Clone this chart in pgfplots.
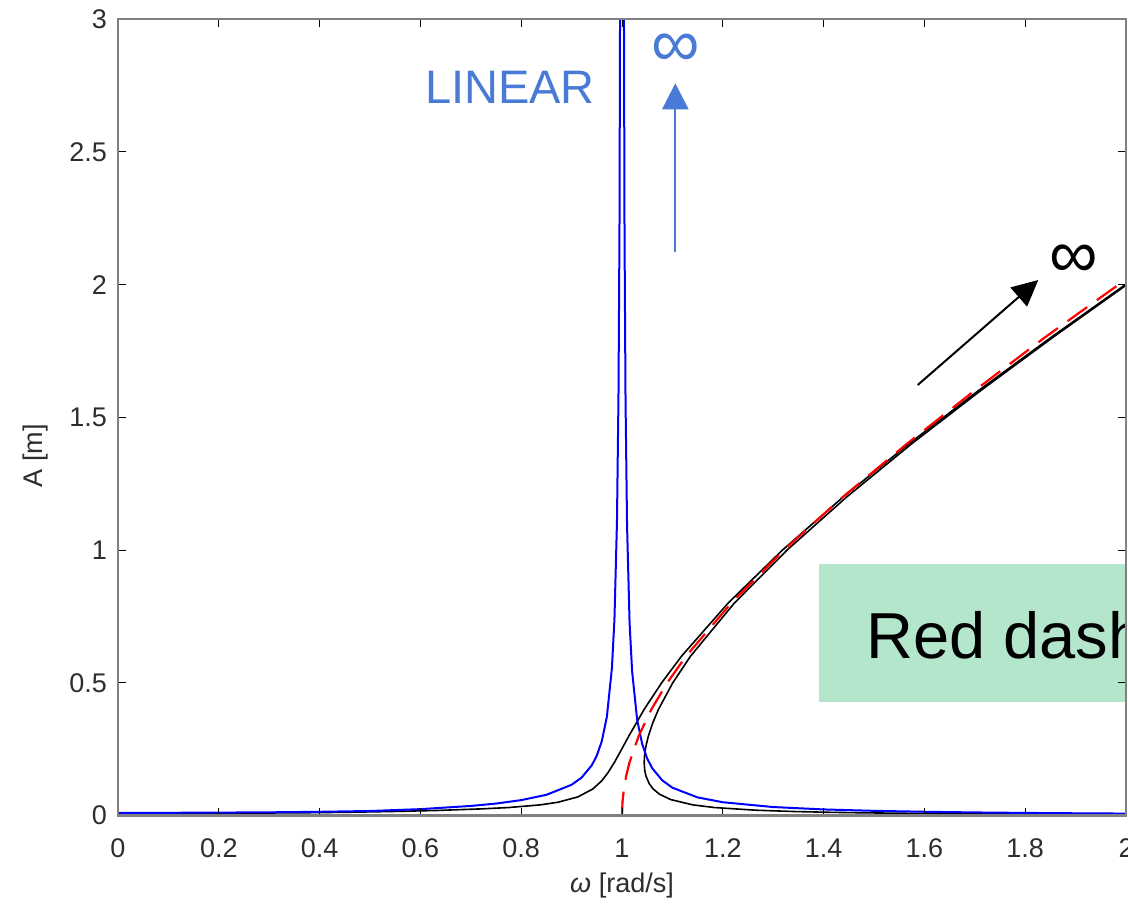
\documentclass[border=0pt]{standalone}
\usepackage{fontspec}
\setmainfont{Liberation Sans}
\usepackage{pgfplots}
\pgfplotsset{compat=1.18}
\usetikzlibrary{arrows.meta}

\definecolor{annblue}{RGB}{72,122,214}
\definecolor{boxgreen}{RGB}{179,230,203}
\definecolor{axgray}{RGB}{128,128,128}
\definecolor{ticktext}{RGB}{45,45,45}

% linear response
\pgfplotstableread{
w A
0 0.0100
0.1 0.0102
0.2 0.0110
0.3 0.0120
0.4 0.0140
0.5 0.0170
0.6 0.0240
0.7 0.0360
0.75 0.0450
0.8 0.0580
0.85 0.0780
0.9 0.1158
0.92 0.1432
0.94 0.1890
0.95 0.2256
0.96 0.2806
0.97 0.3723
0.98 0.5556
0.985 0.7389
0.99 1.1055
0.993 1.5770
0.995 2.2055
0.997 3.672
0.999 11.006
1.001 10.995
1.003 3.661
1.005 2.1945
1.007 1.5659
1.01 1.0945
1.015 0.7279
1.02 0.5446
1.03 0.3612
1.04 0.2696
1.05 0.2146
1.06 0.1780
1.08 0.1322
1.1 0.1048
1.15 0.0682
1.2 0.0500
1.3 0.0319
1.4 0.0229
1.5 0.0176
1.6 0.0141
1.7 0.0116
1.8 0.0098
1.9 0.0084
2.0 0.0073
}\linear

% Duffing response, in-phase branch
\pgfplotstableread{
w A
0.0104 0.0080
0.1285 0.0082
0.2003 0.0086
0.2776 0.0092
0.3782 0.0105
0.4474 0.0120
0.5425 0.0150
0.6327 0.0190
0.7214 0.0250
0.7750 0.0300
0.8374 0.0400
0.8729 0.0500
0.9123 0.0700
0.9421 0.1000
0.9594 0.1300
0.9717 0.1600
0.9849 0.2000
0.9994 0.2500
1.0137 0.3000
1.0440 0.4000
1.0787 0.5000
1.1180 0.6000
1.2104 0.8000
1.3183 1.0000
1.4387 1.2000
1.5689 1.4000
1.7066 1.6000
1.8502 1.8000
1.9985 2.0000
2.0135 2.0200
}\branchin

% Duffing response, out-of-phase branch
\pgfplotstableread{
w A
2.0000 0.0040
1.8439 0.0050
1.7321 0.0060
1.5811 0.0080
1.4833 0.0100
1.4143 0.0120
1.3417 0.0150
1.2650 0.0200
1.1835 0.0300
1.1407 0.0400
1.0967 0.0600
1.0746 0.0800
1.0618 0.1000
1.0540 0.1200
1.0473 0.1500
1.0451 0.1700
1.0440 0.2000
1.0449 0.2300
1.0473 0.2600
1.0524 0.3000
1.0612 0.3500
1.0724 0.4000
1.1007 0.5000
1.1358 0.6000
1.2227 0.8000
1.3274 1.0000
1.4457 1.2000
1.5743 1.4000
1.7110 1.6000
1.8538 1.8000
2.0015 2.0000
}\branchout

% backbone curve
\pgfplotstableread{
w A
1.00000 0.00
1.00094 0.05
1.00374 0.10
1.00840 0.15
1.01489 0.20
1.03320 0.30
1.05830 0.40
1.08972 0.50
1.12694 0.60
1.21655 0.80
1.32100 1.00
1.43800 1.20
1.56500 1.40
1.69900 1.60
1.83800 1.80
1.98500 2.00
2.00000 2.02
}\backbone

\begin{document}
\begin{tikzpicture}
\begin{axis}[
  at={(0,0)}, anchor=south west,
  scale only axis, width=504pt, height=398.1pt,
  xmin=0, xmax=2, ymin=0, ymax=3,
  xtick={0,0.2,0.4,0.6,0.8,1,1.2,1.4,1.6,1.8,2},
  ytick={0,0.5,1,1.5,2,2.5,3},
  /pgf/number format/assume math mode=true,
  tick label style={font=\fontsize{13.5}{16}\selectfont, text=ticktext},
  xticklabel style={yshift=-8pt},
  yticklabel style={xshift=-2pt},
  major tick length=4pt,
  tick style={black, line width=0.5pt},
  axis line style={axgray, line width=1.2pt},
  axis on top,
  clip=true,
  xlabel={\textit{ω} [rad/s]},
  ylabel={A [m]},
  every axis x label/.style={at={(axis description cs:0.5,-0.0879)}, anchor=center,
    font=\fontsize{13.5}{16}\selectfont, text=ticktext},
  every axis y label/.style={at={(axis description cs:-0.0823,0.4516)}, anchor=center,
    rotate=90, font=\fontsize{13.5}{16}\selectfont, text=ticktext},
]
\fill[boxgreen] (axis cs:1.3909,0.4288) rectangle (axis cs:2.01,0.9476);
\node[anchor=base west, inner sep=0pt, font=\fontsize{32.5}{38}\selectfont]
  at (axis cs:1.484,0.5923) {Red dashed};

\addplot[black, line width=0.8pt] table[x=w, y=A] {\branchin};
\addplot[black, line width=0.8pt] table[x=w, y=A] {\branchout};
\addplot[blue, line width=1pt] table[x=w, y=A] {\linear};
\addplot[red, line width=1.1pt, dash pattern=on 12pt off 6pt] table[x=w, y=A] {\backbone};

\node[annblue, font=\fontsize{23.5}{28}\selectfont] at (axis cs:0.7778,2.745) {LINEAR};
\node[annblue, font=\fontsize{34}{40}\selectfont, inner sep=0pt] at (axis cs:1.1071,2.884) {∞};
\draw[annblue, line width=1pt, -{Triangle[length=13pt,width=13pt]}]
  (axis cs:1.1058,2.1244) -- (axis cs:1.1058,2.759);
\node[black, font=\fontsize{34}{40}\selectfont, inner sep=0pt] at (axis cs:1.8968,2.0905) {∞};
\draw[black, line width=1pt, -{Triangle[length=13pt,width=12.5pt]}]
  (axis cs:1.5867,1.6221) -- (axis cs:1.826,2.0177);
\end{axis}
\pgfresetboundingbox
\useasboundingbox (-59pt,-47.75pt) rectangle (505pt,407.75pt);
\end{tikzpicture}
\end{document}
